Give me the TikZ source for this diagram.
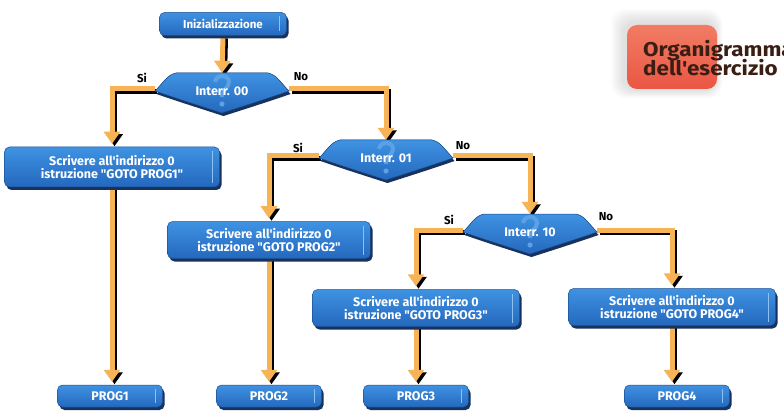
\documentclass[tikz,border=0pt]{standalone}
\usepackage{fontspec}
\setmainfont{Fira Sans}
\newfontfamily\boxfont{Fira Sans}
\newfontfamily\titlefont[FakeStretch=1.12]{Fira Sans}
\usetikzlibrary{arrows.meta,calc}
\definecolor{btop}{HTML}{3F92E2}
\definecolor{bbot}{HTML}{2468BE}
\definecolor{bedge}{HTML}{1C4F92}
\definecolor{bdark}{HTML}{17325C}
\definecolor{bhl}{HTML}{8CC2F2}
\definecolor{qblue}{HTML}{5CA0E6}
\definecolor{aorange}{HTML}{F7B457}
\definecolor{rtop}{HTML}{F27C63}
\definecolor{rbot}{HTML}{EA5644}
\definecolor{tdark}{HTML}{3A1E14}
\pgfdeclarelayer{back}
\pgfdeclarelayer{conn}
\pgfsetlayers{back,conn,main}
\tikzset{
  bx/.style={rounded corners=5pt, top color=btop, bottom color=bbot, draw=bedge, line width=0.5pt,
    text=white, font=\boxfont\bfseries\fontsize{12.5}{12.5}\selectfont, align=center, inner sep=0pt,
    preaction={fill=bdark, transform canvas={shift={(2pt,-3pt)}}},
    path picture={\draw[bhl, line width=0.8pt]
      ($(path picture bounding box.north east)+(-7pt,-4pt)$) --
      ($(path picture bounding box.south east)+(-7pt,4pt)$);}},
  bigbox/.style={bx, minimum width=207pt, minimum height=37pt},
  progbox/.style={bx, minimum width=105pt, minimum height=22pt},
  initbox/.style={bx, minimum width=127pt, minimum height=23pt, font=\boxfont\bfseries\fontsize{11.5}{12}\selectfont},
  dia/.style={inner sep=0pt, minimum width=134pt, minimum height=30pt, text=white,
    font=\boxfont\bfseries\fontsize{12.5}{13}\selectfont},
  lbl/.style={font=\bfseries\fontsize{11.5}{12}\selectfont, text=black, inner sep=0pt},
  aline/.style={draw=aorange, line width=5pt, line join=miter,
    -{Triangle[width=16pt,length=12pt]}, shorten >=3pt},
  ashadow/.style={aline, draw=black, transform canvas={shift={(2.5pt,-2.5pt)}}},
}
\newcommand\diashape[1]{\fill[#1] (-67,0) .. controls (-58,-9) and (-55,-16) .. (-46,-18)
  -- (46,-18) .. controls (55,-16) and (58,-9) .. (67,0)
  .. controls (50,6) and (25,14) .. (0,22)
  .. controls (-25,14) and (-50,6) .. (-67,0) -- cycle;}
\newcommand\mydia[3]{%
  \begin{scope}[shift={(#2)}]
    \diashape{bdark, shift={(1.5,3)}}
    \diashape{top color=btop, bottom color=bbot, draw=bedge, line width=0.5pt}
    \draw[qblue, line width=4pt] (-7,-9) .. controls (-6,-17) and (7,-17) .. (7,-9)
      .. controls (7,-3) and (0,-2) .. (0,6);
    \fill[qblue] (0,13) circle (2.6);
  \end{scope}
  \node[dia] (#1) at (#2) {#3};}
\newcommand\conn[1]{\begin{pgfonlayer}{conn}\draw[ashadow] #1; \draw[aline] #1;\end{pgfonlayer}}
\begin{document}
\begin{tikzpicture}[x=1pt,y=-1pt]
\useasboundingbox (0,0) rectangle (784,414);
\begin{pgfonlayer}{back}
  \fill[white] (0,0) rectangle (784,414);
\end{pgfonlayer}
\clip (0,0) rectangle (784,414);

% title
\foreach \i in {1,...,10} {
  \fill[gray, opacity=0.025, rounded corners=14pt]
    ($(624,22)+(-\i*1.3,-\i*1.3)$) rectangle ($(716,90)+(\i*0.6,\i*0.8)$);
}
\shade[rounded corners=10pt, top color=rtop, bottom color=rbot] (627,25) rectangle (717,89);
\node[anchor=base west, inner sep=0pt, text=tdark,
  font=\titlefont\bfseries\fontsize{20}{20}\selectfont] (t1) at (643,57) {Organigramma};
\node[anchor=base west, inner sep=0pt, text=tdark,
  font=\titlefont\bfseries\fontsize{20}{20}\selectfont] (t2) at (643,76) {dell'esercizio};

% nodes
\node[initbox] (init) at (223,24) {Inizializzazione};
\mydia{d0}{222,91}{Interr. 00}
\mydia{d1}{386,158}{Interr. 01}
\mydia{d2}{530,232}{Interr. 10}
\node[bigbox, minimum width=215pt, minimum height=40pt] (b1) at (112,167) {Scrivere all'indirizzo 0\\istruzione "GOTO PROG1"};
\node[bigbox, minimum width=203pt] (b2) at (269,240) {Scrivere all'indirizzo 0\\istruzione "GOTO PROG2"};
\node[bigbox] (b3) at (416,308) {Scrivere all'indirizzo 0\\istruzione "GOTO PROG3"};
\node[bigbox] (b4) at (672,307) {Scrivere all'indirizzo 0\\istruzione "GOTO PROG4"};
\node[progbox] (p1) at (110,396) {PROG1};
\node[progbox] (p2) at (269,396) {PROG2};
\node[progbox] (p3) at (416,396) {PROG3};
\node[progbox] (p4) at (677,396) {PROG4};

% labels
\node[lbl] (s0) at (142,78) {Si};
\node[lbl] (n0) at (301,77) {No};
\node[lbl] (s1) at (298,148) {Si};
\node[lbl] (n1) at (463,146) {No};
\node[lbl] (s2) at (449,220) {Si};
\node[lbl] (n2) at (606,217) {No};

% connectors
\conn{(init.south) -- (d0.north)}
\conn{([yshift=2pt]d0.west) -| (b1.north)}
\conn{([yshift=2pt]d0.east) -| (d1.north)}
\conn{([yshift=2pt]d1.west) -| (b2.north)}
\conn{([yshift=2pt]d1.east) -| (d2.north)}
\conn{([yshift=2pt]d2.west) -| (b3.north)}
\conn{([yshift=2pt]d2.east) -| (b4.north)}
\conn{(b1.south) -- (b1.south |- p1.north)}
\conn{(b2.south) -- (b2.south |- p2.north)}
\conn{(b3.south) -- (b3.south |- p3.north)}
\conn{(b4.south) -- (b4.south |- p4.north)}
\end{tikzpicture}
\end{document}
